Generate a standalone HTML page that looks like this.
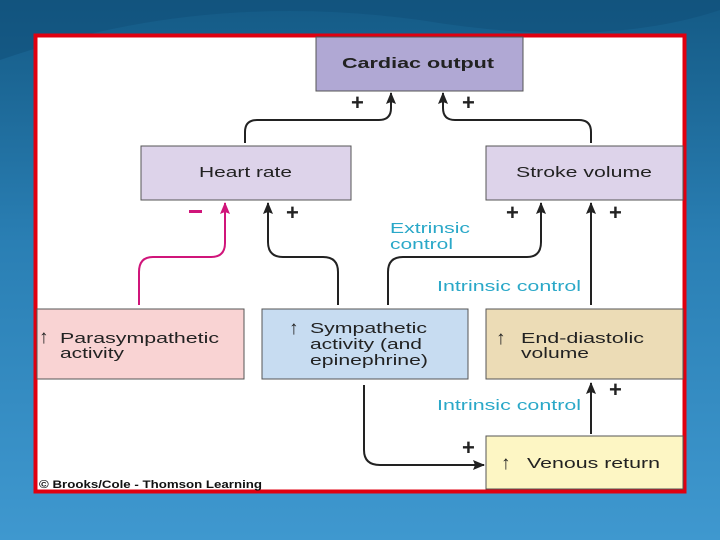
<!DOCTYPE html>
<html><head><style>
body{margin:0;width:720px;height:540px;overflow:hidden;background:linear-gradient(180deg,#145a85 0%,#2a7fb4 45%,#3f98cf 100%);font-family:"Liberation Sans",sans-serif;}
</style></head><body>
<svg width="720" height="540" style="position:absolute;left:0;top:0">
<path d="M0,60 Q200,-10 420,20 Q600,50 720,10 L720,0 L0,0Z" fill="#0f4e78" opacity="0.5"/>
<rect x="35.5" y="35.5" width="649" height="456" fill="#fff" stroke="#e00010" stroke-width="4"/>
<g stroke="#555" stroke-width="1">
<rect x="316" y="37" width="207" height="54" fill="#b0a8d4"/>
<rect x="141" y="146" width="210" height="54" fill="#ddd3ea"/>
<rect x="486" y="146" width="197" height="54" fill="#ddd3ea"/>
<rect x="37" y="309" width="207" height="70" fill="#f9d3d3"/>
<rect x="262" y="309" width="206" height="70" fill="#c7dcf1"/>
<rect x="486" y="309" width="197" height="70" fill="#ecdcb6"/>
<rect x="486" y="436" width="197" height="53" fill="#fdf6c4"/>
</g>
<defs>
<marker id="a" markerWidth="12" markerHeight="10" refX="11" refY="5" orient="auto" markerUnits="userSpaceOnUse"><path d="M0,0 L12,5 L0,10 L2,5 Z" fill="#222"/></marker>
<marker id="p" markerWidth="12" markerHeight="10" refX="11" refY="5" orient="auto" markerUnits="userSpaceOnUse"><path d="M0,0 L12,5 L0,10 L2,5 Z" fill="#d0157a"/></marker>
</defs>
<g fill="none" stroke="#222" stroke-width="2">
<path d="M245,143 V132 Q245,120 257,120 H379 Q391,120 391,108 V93" marker-end="url(#a)"/>
<path d="M591,143 V132 Q591,120 579,120 H455 Q443,120 443,108 V93" marker-end="url(#a)"/>
<path d="M338,305 V272 Q338,257 323,257 H283 Q268,257 268,242 V203" marker-end="url(#a)"/>
<path d="M388,305 V272 Q388,257 403,257 H527 Q541,257 541,242 V203" marker-end="url(#a)"/>
<path d="M591,305 V203" marker-end="url(#a)"/>
<path d="M591,434 V383" marker-end="url(#a)"/>
<path d="M364,385 V450 Q364,465 380,465 H484" marker-end="url(#a)"/>
</g>
<path d="M139,305 V272 Q139,257 153,257 H211 Q225,257 225,243 V203" fill="none" stroke="#d0157a" stroke-width="2" marker-end="url(#p)"/>
<g font-weight="bold" font-size="22" fill="#222">
<text x="351" y="110">+</text><text x="462" y="110">+</text>
<text x="286" y="220">+</text><text x="506" y="220">+</text><text x="609" y="220">+</text>
<text x="609" y="397">+</text><text x="462" y="455">+</text>
</g>
<rect x="189" y="210" width="13" height="3" fill="#d0157a"/>
<g fill="#222" font-size="15">
<text x="342" y="68" font-weight="bold" textLength="152" lengthAdjust="spacingAndGlyphs">Cardiac output</text>
<text x="199" y="177" textLength="93" lengthAdjust="spacingAndGlyphs">Heart rate</text>
<text x="516" y="177" textLength="136" lengthAdjust="spacingAndGlyphs">Stroke volume</text>
<text x="39" y="343" font-size="19">↑</text><text x="60" y="343" textLength="159" lengthAdjust="spacingAndGlyphs">Parasympathetic</text>
<text x="60" y="358" textLength="64" lengthAdjust="spacingAndGlyphs">activity</text>
<text x="289" y="334" font-size="19">↑</text><text x="310" y="333" textLength="117" lengthAdjust="spacingAndGlyphs">Sympathetic</text>
<text x="310" y="349" textLength="112" lengthAdjust="spacingAndGlyphs">activity (and</text>
<text x="310" y="365" textLength="118" lengthAdjust="spacingAndGlyphs">epinephrine)</text>
<text x="496" y="344" font-size="19">↑</text><text x="521" y="343" textLength="123" lengthAdjust="spacingAndGlyphs">End-diastolic</text>
<text x="521" y="358" textLength="68" lengthAdjust="spacingAndGlyphs">volume</text>
<text x="501" y="469" font-size="19">↑</text><text x="527" y="468" textLength="133" lengthAdjust="spacingAndGlyphs">Venous return</text>
</g>
<g fill="#2aa8c8" font-size="15">
<text x="390" y="233" textLength="80" lengthAdjust="spacingAndGlyphs">Extrinsic</text>
<text x="390" y="249" textLength="63" lengthAdjust="spacingAndGlyphs">control</text>
<text x="437" y="291" textLength="144" lengthAdjust="spacingAndGlyphs">Intrinsic control</text>
<text x="437" y="410" textLength="144" lengthAdjust="spacingAndGlyphs">Intrinsic control</text>
</g>
<text x="39" y="488" font-size="11" font-weight="bold" fill="#111" textLength="223" lengthAdjust="spacingAndGlyphs">© Brooks/Cole - Thomson Learning</text>
</svg>
</body></html>
